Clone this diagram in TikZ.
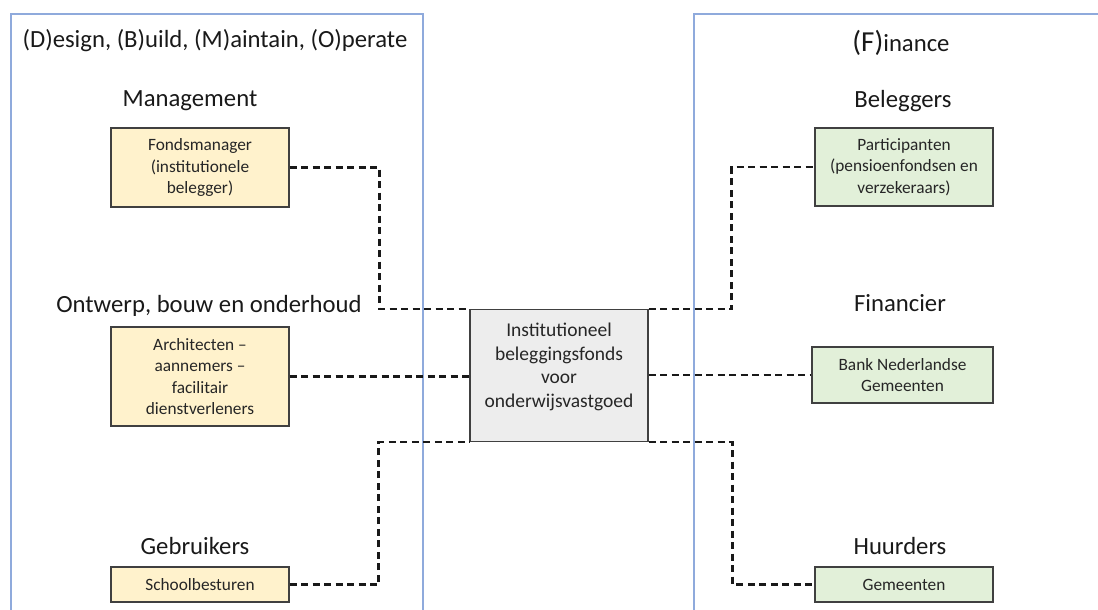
\documentclass[tikz,border=0pt]{standalone}
\usepackage{fontspec}
\setmainfont{Carlito}
\usetikzlibrary{calc}
\definecolor{panelblue}{HTML}{8FAADC}
\definecolor{designfill}{HTML}{FFF2CC}
\definecolor{financefill}{HTML}{E2F0D9}
\definecolor{fundfill}{HTML}{EDEDED}

\begin{document}
\begin{tikzpicture}[x=1pt,y=-1pt,
  box node/.style={draw=black!75,line width=1.2pt,minimum width=178pt,align=center,inner sep=2pt,
    text=black!85,font=\fontsize{17.3}{21.5}\selectfont},
  design node/.style={box node,fill=designfill},
  finance node/.style={box node,fill=financefill},
  head node/.style={font=\fontsize{24.7}{28}\selectfont,text=black!90,inner sep=0pt},
  link/.style={line width=2.3pt,dash pattern=on 7pt off 4.5pt,black!90}]

\useasboundingbox (0,0) rectangle (1098,610);

% panels
\draw[panelblue,line width=2pt] (11,612) -- (11,14) -- (423,14) -- (423,612);
\draw[panelblue,line width=2pt] (694,612) -- (694,14) -- (1100,14);

\node[head node] (dbmo) at (215,41) {(D)esign, (B)uild, (M)aintain, (O)perate};
\node[head node] (fin) at (901,43) {{\fontsize{29}{30}\selectfont(F)}inance};

\node[head node] (mgmt) at (190,101) {Management};
\node[head node] (obo) at (209,306) {Ontwerp, bouw en onderhoud};
\node[head node] (gebr) at (195,546) {Gebruikers};
\node[head node] (beleg) at (903,101) {Beleggers};
\node[head node] (financier) at (900,303) {Financier};
\node[head node] (huur) at (900,546) {Huurders};

\node[design node,minimum height=79pt] (fonds) at (200,167.5) {Fondsmanager\\(institutionele\\belegger)};
\node[design node,minimum height=99pt] (arch) at (200,376.5) {Architecten –\\aannemers –\\facilitair\\dienstverleners};
\node[design node,minimum height=35pt] (school) at (200,584.5) {Schoolbesturen};

\node[box node,fill=fundfill,minimum height=132pt,font=\fontsize{19.5}{23.5}\selectfont,anchor=north]
  (fund) at (559,309) {Institutioneel\\beleggingsfonds\\voor\\onderwijsvastgoed\\[-2.5pt]};

\node[finance node,minimum height=78pt] (part) at (904,167) {Participanten\\(pensioenfondsen en\\verzekeraars)};
\node[finance node,minimum height=56pt,minimum width=181pt] (bng) at (902.5,375) {Bank Nederlandse\\Gemeenten};
\node[finance node,minimum height=35pt] (gem) at (904,584.5) {Gemeenten};

\draw[link] (fonds.east) -- ++(90,0) |- (fund.north west);
\draw[link] (arch.east) -- (arch.east -| fund.west);
\draw[link] (school.east) -- ++(89,0) |- (fund.south west);
\draw[link] (fund.north east) -- ++(83,0) |- (part.west);
\draw[link] (bng.west -| fund.east) -- (bng.west);
\draw[link] (fund.south east) -- ++(84,0) |- (gem.west);

\end{tikzpicture}
\end{document}
